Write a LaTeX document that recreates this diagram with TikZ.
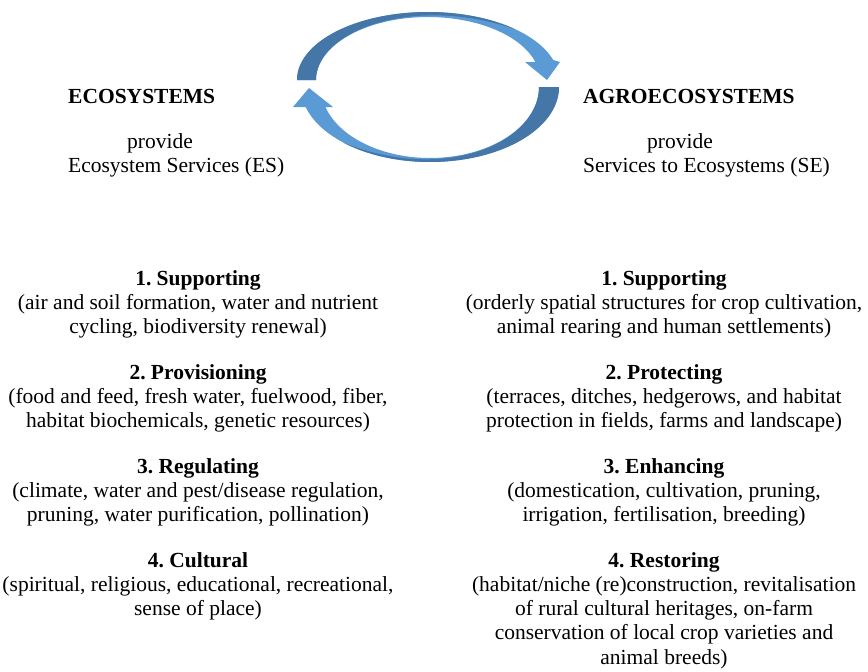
\documentclass[tikz,border=0pt]{standalone}
\usepackage{fontspec}
\setmainfont{Liberation Serif}
\definecolor{arrowlight}{RGB}{91,155,213}
\definecolor{arrowdark}{RGB}{68,118,168}
\newcommand{\svcblock}[1]{\begin{tabular}[t]{@{}c@{}}#1\end{tabular}}
\begin{document}
\frenchspacing
\begin{tikzpicture}[x=1pt,y=-1pt,
  txt/.style={inner sep=0pt,font=\fontsize{21.5}{24.3}\selectfont},
  head/.style={txt,font=\fontsize{21.5}{24.3}\selectfont\bfseries},
  block/.style={txt,anchor=base}]
\useasboundingbox (0,0) rectangle (868,672);
\fill[white] (0,0) rectangle (868,672);

% upper curved arrow: ecosystems -> agroecosystems
\fill[arrowlight]
  plot[domain=180:17.1,samples=90] ({428+131*cos(\x)},{80-68*sin(\x)})
  -- (560,62) -- (547,80) -- (525,62)
  -- plot[domain=16.6:180,samples=90] ({428+112*cos(\x)},{80-63*sin(\x)})
  -- cycle;
\fill[arrowdark]
  plot[domain=180:48,samples=90] ({428+131*cos(\x)},{80-68*sin(\x)})
  -- plot[domain=48:180,samples=90]
     ({428+(112+19*((180-\x)/132)^3)*cos(\x)},{80-(63+5*((180-\x)/132)^3)*sin(\x)})
  -- cycle;

% lower curved arrow: agroecosystems -> ecosystems
\fill[arrowlight]
  plot[domain=0:164.5,samples=90] ({430+129*cos(\x)},{87+75*sin(\x)})
  -- (293,107) -- (309,88) -- (333,107)
  -- plot[domain=163.6:0,samples=90] ({430+109*cos(\x)},{87+71*sin(\x)})
  -- cycle;
\fill[arrowdark]
  plot[domain=0:132,samples=90] ({430+129*cos(\x)},{87+75*sin(\x)})
  -- plot[domain=132:0,samples=90]
     ({430+(109+20*(\x/132)^3)*cos(\x)},{87+(71+4*(\x/132)^3)*sin(\x)})
  -- cycle;

% headings
\node[head,anchor=base west] (eco) at (68,103) {ECOSYSTEMS};
\node[txt,anchor=base west] (ecoprov) at (127,148) {provide};
\node[txt,anchor=base west] (es) at (68,172) {Ecosystem Services (ES)};
\node[head,anchor=base west] (agro) at (583,103) {AGROECOSYSTEMS};
\node[txt,anchor=base west] (agroprov) at (647,148) {provide};
\node[txt,anchor=base west] (se) at (583,172) {Services to Ecosystems (SE)};

% ecosystem services
\node[block] (es1) at (198,285) {\svcblock{\textbf{1. Supporting}\\(air and soil formation, water and nutrient\\cycling, biodiversity renewal)}};
\node[block] (es2) at (198,379) {\svcblock{\textbf{2. Provisioning}\\(food and feed, fresh water, fuelwood, fiber,\\habitat biochemicals, genetic resources)}};
\node[block] (es3) at (198,473) {\svcblock{\textbf{3. Regulating}\\(climate, water and pest/disease regulation,\\pruning, water purification, pollination)}};
\node[block] (es4) at (198,567) {\svcblock{\textbf{4. Cultural}\\(spiritual, religious, educational, recreational,\\sense of place)}};

% services to ecosystems
\node[block] (se1) at (664,285) {\svcblock{\textbf{1. Supporting}\\(orderly spatial structures for crop cultivation,\\animal rearing and human settlements)}};
\node[block] (se2) at (664,379) {\svcblock{\textbf{2. Protecting}\\(terraces, ditches, hedgerows, and habitat\\protection in fields, farms and landscape)}};
\node[block] (se3) at (664,473) {\svcblock{\textbf{3. Enhancing}\\(domestication, cultivation, pruning,\\irrigation, fertilisation, breeding)}};
\node[block] (se4) at (664,567) {\svcblock{\textbf{4. Restoring}\\(habitat/niche (re)construction, revitalisation\\of rural cultural heritages, on-farm\\conservation of local crop varieties and\\animal breeds)}};
\end{tikzpicture}
\end{document}
